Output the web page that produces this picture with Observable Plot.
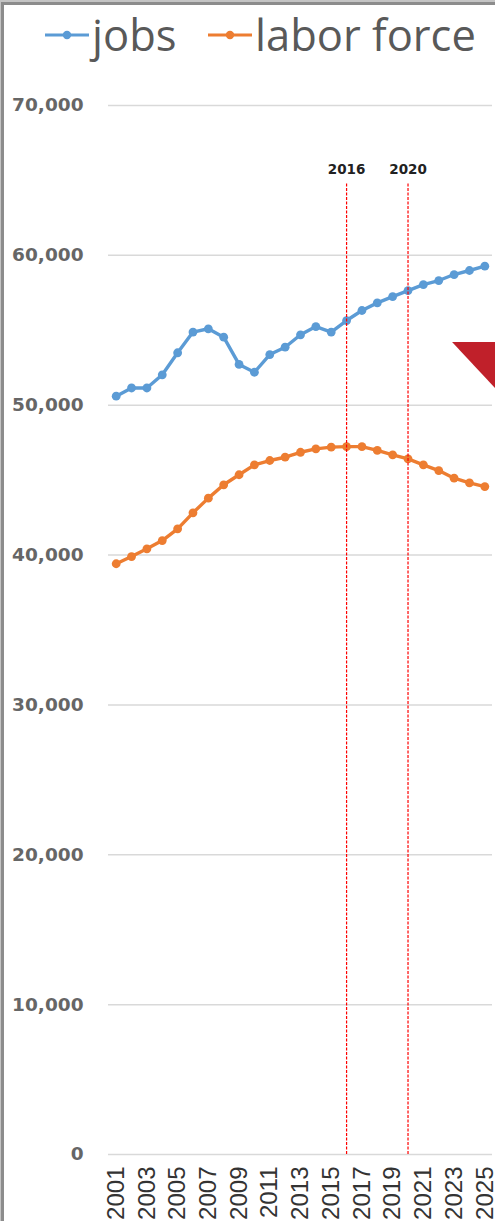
<!DOCTYPE html>
<html>
<head>
<meta charset="utf-8">
<script src="https://cdn.jsdelivr.net/npm/d3@7"></script>
<script src="https://cdn.jsdelivr.net/npm/@observablehq/plot@0.6"></script>
<style>
  html, body { margin: 0; padding: 0; background: #fff; }
  #page { position: relative; width: 495px; height: 1221px; overflow: hidden; background: #fff; }
  #chart { position: absolute; left: 0; top: 0; }
  #chart svg { overflow: visible; }
  .bTopL { position: absolute; left: 0; top: 0; width: 495px; height: 2px; background: #c4c4c4; }
  .bTopD { position: absolute; left: 0; top: 2px; width: 495px; height: 3px; background: #8c8c8c; }
  .bLeftL { position: absolute; left: 0; top: 0; width: 1px; height: 1221px; background: #c4c4c4; }
  .bLeftD { position: absolute; left: 1px; top: 2px; width: 3px; height: 1219px; background: #8c8c8c; }
  #legend { position: absolute; left: 0; top: 0; width: 495px; height: 70px; font-family: "Open Sans", sans-serif; font-size: 43.5px; color: #595959; }
  .lg { position: absolute; top: 8px; display: flex; align-items: center; white-space: nowrap; line-height: 54px; }
  .lg svg { margin-right: 3px; }
</style>
</head>
<body>
<div id="page">
  <div id="chart"></div>
  <div id="legend"></div>
  <div class="bTopL"></div><div class="bTopD"></div>
  <div class="bLeftL"></div><div class="bLeftD"></div>
</div>
<script>
const years = d3.range(2001, 2026);
const jobs = [50600, 51150, 51150, 52030, 53500, 54880, 55100, 54540, 52720, 52200, 53380, 53870, 54700, 55250, 54880, 55650, 56320, 56830, 57250, 57650, 58050, 58320, 58720, 58990, 59280];
const laborForce = [39420, 39900, 40420, 40970, 41750, 42820, 43800, 44690, 45360, 46020, 46310, 46530, 46860, 47090, 47200, 47240, 47240, 46980, 46690, 46420, 46020, 45640, 45130, 44820, 44570];
const seriesNames = ["jobs", "labor force"];
const seriesColors = ["#5b9bd5", "#ed7d31"];
const xTickYears = d3.range(2001, 2026, 2);
const yTicks = [0, 10000, 20000, 30000, 40000, 50000, 60000, 70000];
const markerYears = [2016, 2020];
const markerLineTop = 64860;
const markerLabelY = 65700;
// cropped red shape at right edge (data-space vertices)
const redShape = [
  {x: 2022.9, y1: 54185, y2: 54185},
  {x: 2025.7, y1: 54185, y2: 51116}
];

const rows = [];
years.forEach((yr, i) => {
  rows.push({year: yr, value: jobs[i], series: seriesNames[0]});
  rows.push({year: yr, value: laborForce[i], series: seriesNames[1]});
});

const chart = Plot.plot({
  width: 495,
  height: 1221,
  marginLeft: 108,
  marginRight: 3,
  marginTop: 105,
  marginBottom: 67,
  style: {background: "transparent"},
  x: {domain: [2000.5, 2025.5]},
  y: {domain: [0, 70000]},
  color: {domain: seriesNames, range: seriesColors},
  marks: [
    Plot.gridY(yTicks, {stroke: "#d9d9d9", strokeOpacity: 1, strokeWidth: 1.5}),
    Plot.axisY(yTicks, {
      tickSize: 0, tickPadding: 25, tickFormat: d3.format(","),
      fontSize: 18.5, fontWeight: "bold", fontFamily: "DejaVu Sans", color: "#666"
    }),
    Plot.axisX(xTickYears, {
      tickSize: 0, tickPadding: 12, tickRotate: -90, tickFormat: d => String(d),
      fontSize: 24, fontFamily: "Liberation Sans", color: "#333"
    }),
    Plot.line(rows, {x: "year", y: "value", z: "series", stroke: "series", strokeWidth: 3.4}),
    Plot.dot(rows, {x: "year", y: "value", fill: "series", r: 4.4, stroke: "none"}),
    Plot.ruleX(markerYears, {y1: 0, y2: markerLineTop, stroke: "#ff0000", strokeWidth: 1.2, strokeDasharray: "3,1.5"}),
    Plot.text(markerYears, {x: d => d, y: markerLabelY, text: d => String(d), fontSize: 13.5, fontWeight: 600, fontFamily: "DejaVu Sans", fill: "#222"}),
    Plot.areaY(redShape, {x: "x", y1: "y1", y2: "y2", fill: "#c0202a"})
  ]
});
document.getElementById("chart").appendChild(chart);

// legend
const legend = document.getElementById("legend");
const legendX = [45, 208];
seriesNames.forEach((name, i) => {
  const item = document.createElement("div");
  item.className = "lg";
  item.style.left = legendX[i] + "px";
  item.innerHTML = `<svg width="44" height="12" viewBox="0 0 44 12"><line x1="0" y1="6" x2="44" y2="6" stroke="${seriesColors[i]}" stroke-width="3.2"/><circle cx="22" cy="6" r="4.2" fill="${seriesColors[i]}"/></svg><span>${name}</span>`;
  legend.appendChild(item);
});
</script>
</body>
</html>
